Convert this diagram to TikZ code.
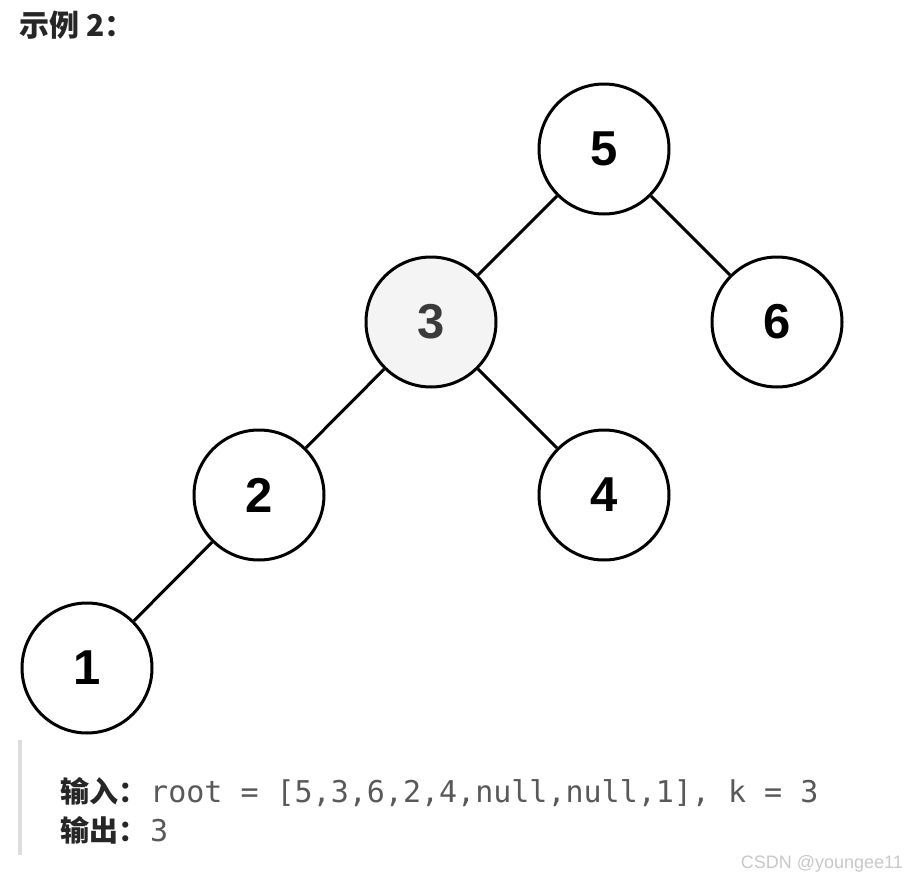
\documentclass[tikz,border=0pt]{standalone}
\usepackage{fontspec}
\setmainfont{Liberation Sans}
\newfontfamily\cjk{Noto Sans CJK SC}
\newfontfamily\digitfont{Liberation Sans}
\newfontfamily\codefont{DejaVu Sans Mono}
\definecolor{titlecol}{HTML}{262626}
\definecolor{codecol}{HTML}{595959}
\definecolor{barcol}{HTML}{DDDDDD}
\definecolor{markcol}{HTML}{C8C8C8}
\definecolor{hlfill}{HTML}{F4F4F4}
\definecolor{hltext}{HTML}{3A3A3A}
\tikzset{
  treenode/.style={circle, draw=black, line width=3pt, fill=white, minimum size=130pt, inner sep=0pt,
    font=\digitfont\bfseries\fontsize{49}{49}\selectfont, text=black},
  hlnode/.style={treenode, fill=hlfill, text=hltext},
  edge/.style={draw=black, line width=3pt},
  cjklabel/.style={anchor=base west, inner sep=0pt, font=\cjk\bfseries\fontsize{29}{29}\selectfont, text=titlecol},
  codetext/.style={anchor=base west, inner sep=0pt, font=\codefont\fontsize{30}{30}\selectfont, text=codecol}
}
\begin{document}
\begin{tikzpicture}[x=1pt,y=-1pt]
\useasboundingbox[fill=white] (0,0) rectangle (906,878);
\node[cjklabel, font=\cjk\bfseries\fontsize{30}{30}\selectfont] (title) at (19,36) {示例 2：};
\node[treenode] (n5) at (604,149) {5};
\node[hlnode] (n3) at (431,322) {3};
\node[treenode] (n6) at (777,322) {6};
\node[treenode] (n2) at (259,495) {2};
\node[treenode] (n4) at (604,495) {4};
\node[treenode] (n1) at (87,668) {1};
\draw[edge] (n5) -- (n3);
\draw[edge] (n5) -- (n6);
\draw[edge] (n3) -- (n2);
\draw[edge] (n3) -- (n4);
\draw[edge] (n2) -- (n1);
\fill[barcol] (18,740) rectangle (22,855);
\node[cjklabel] (inlab) at (60,802) {输入：};
\node[codetext] (incode) at (150,802) {root = [5,3,6,2,4,null,null,1], k = 3};
\node[cjklabel] (outlab) at (60,841) {输出：};
\node[codetext] (outcode) at (150,841) {3};
\node[anchor=base east, inner sep=0pt, font=\fontsize{18}{18}\selectfont, text=markcol] (mark) at (903,868) {CSDN @youngee11};
\end{tikzpicture}
\end{document}
